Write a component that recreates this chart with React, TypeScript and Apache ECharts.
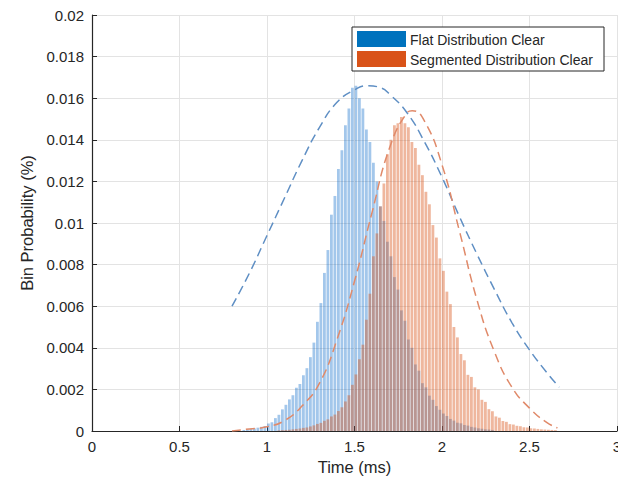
import React, { useEffect, useRef } from "react";
import * as echarts from "echarts";

// ---- Data ----
const BIN_WIDTH = 0.02; // ms
const flatBinStart = 0.86; // left edge of first bin (ms)
const flatProb = [
  0.00005, 0.00007, 0.0001, 0.00012, 0.00016, 0.0002, 0.00024, 0.00036, 0.00042, 0.00062,
  0.00078, 0.00104, 0.00126, 0.00152, 0.00172, 0.00208, 0.00226, 0.00268, 0.00302, 0.00355,
  0.00425, 0.00525, 0.00615, 0.0076, 0.0087, 0.0104, 0.0113, 0.0126, 0.0135, 0.0147,
  0.0155, 0.0165, 0.0166, 0.016, 0.0155, 0.0145, 0.0139, 0.0129, 0.012, 0.0108,
  0.0101, 0.0091, 0.0084, 0.0074, 0.0068, 0.0058, 0.0053, 0.0044, 0.004, 0.0032,
  0.0029, 0.0023, 0.0021, 0.0017, 0.0015, 0.0012, 0.00102, 0.00084, 0.00072, 0.00058,
  0.0005, 0.0004, 0.00037, 0.00029, 0.00026, 0.0002, 0.00017, 0.00013, 0.00011, 0.00008,
  0.00007, 0.00005,
];
const segBinStart = 1.06;
const segProb = [
  0.00003, 0.00004, 0.00005, 0.00006, 0.00008, 0.0001, 0.00012, 0.00015, 0.00017, 0.00022,
  0.00027, 0.00034, 0.00039, 0.00049, 0.00056, 0.0007, 0.00079, 0.00096, 0.00114, 0.00142,
  0.00172, 0.00222, 0.00272, 0.00345, 0.00415, 0.00535, 0.0066, 0.0084, 0.0095, 0.0108,
  0.0119, 0.0133, 0.014, 0.0147, 0.0148, 0.0151, 0.0148, 0.0146, 0.0139, 0.0136,
  0.0128, 0.0123, 0.0115, 0.0109, 0.0099, 0.0093, 0.0083, 0.0077, 0.0067, 0.0061,
  0.005, 0.0045, 0.0037, 0.0034, 0.0027, 0.0026, 0.0021, 0.002, 0.0015, 0.0014,
  0.00105, 0.00095, 0.0007, 0.00064, 0.00048, 0.00044, 0.00033, 0.00031, 0.00025, 0.00023,
  0.00018, 0.00017, 0.00013, 0.00012, 0.0001, 0.00008, 0.00007, 0.00006, 0.00005, 0.00004,
];
const flatFitX = [0.8, 0.9, 1.0, 1.1, 1.2, 1.3, 1.4, 1.5, 1.57, 1.65, 1.7, 1.8, 1.9, 2.0, 2.1, 2.2, 2.3, 2.4, 2.5, 2.6, 2.67];
const flatFitY = [0.006, 0.0076, 0.0094, 0.0112, 0.013, 0.0146, 0.0158, 0.0164, 0.0166, 0.0165, 0.0162, 0.0153, 0.0139, 0.0122, 0.0103, 0.0085, 0.0068, 0.0052, 0.0039, 0.0028, 0.0021];
const segFitX = [0.8, 0.9, 1.0, 1.1, 1.2, 1.3, 1.4, 1.5, 1.6, 1.7, 1.8, 1.83, 1.9, 2.0, 2.1, 2.2, 2.3, 2.4, 2.5, 2.6, 2.66];
const segFitY = [0.0, 0.0001, 0.0002, 0.0005, 0.0012, 0.0023, 0.0044, 0.0072, 0.0105, 0.0136, 0.0153, 0.0154, 0.0149, 0.0128, 0.0096, 0.0063, 0.0038, 0.0021, 0.0011, 0.0004, 0.00015];

const seriesNames = ["Flat Distribution Clear", "Segmented Distribution Clear"];
const FONT = '"Liberation Sans", Arial, Helvetica, sans-serif';
const TEXT = "#262626";

const binData = (start: number, probs: number[]) =>
  probs.map((p, i) => [start + (i + 0.5) * BIN_WIDTH, p]);
const zip = (xs: number[], ys: number[]) => xs.map((x, i) => [x, ys[i]]);

const histRender = (fill: string) => (params: any, api: any) => {
  const x = api.value(0);
  const y = api.value(1);
  const p0 = api.coord([x - BIN_WIDTH / 2, 0]);
  const p1 = api.coord([x + BIN_WIDTH / 2, y]);
  const w = p1[0] - p0[0];
  return {
    type: "rect",
    shape: { x: p0[0], y: p1[1], width: Math.max(w - 0.7, 0.5), height: p0[1] - p1[1] },
    style: { fill },
  };
};

export default function App() {
  const ref = useRef<HTMLDivElement>(null);
  useEffect(() => {
    if (!ref.current) return;
    const chart = echarts.init(ref.current, undefined, { renderer: "svg", width: 618, height: 482 });
    const axisCommon = {
      axisLine: { show: true, lineStyle: { color: TEXT, width: 1.2 } },
      axisTick: { show: true, inside: true, length: 5, lineStyle: { color: TEXT } },
      splitLine: { show: true, lineStyle: { color: "#e3e3e3", width: 1 } },
      nameTextStyle: { fontFamily: FONT, fontSize: 16.5, color: TEXT },
    };
    chart.setOption({
      animation: false,
      backgroundColor: "#ffffff",
      grid: { left: 92, right: 1, top: 15, bottom: 51, containLabel: false, outerBoundsMode: "none" },
      xAxis: {
        type: "value",
        min: 0,
        max: 3,
        interval: 0.5,
        name: "Time (ms)",
        nameLocation: "middle",
        nameGap: 20,
        ...axisCommon,
        axisLabel: {
          fontFamily: FONT,
          fontSize: 15,
          color: TEXT,
          margin: 8,
          formatter: (v: number) => String(+v.toFixed(1)),
        },
      },
      yAxis: {
        type: "value",
        min: 0,
        max: 0.02,
        interval: 0.002,
        name: "Bin Probability (%)",
        nameLocation: "middle",
        nameGap: 55,
        ...axisCommon,
        axisLabel: {
          fontFamily: FONT,
          fontSize: 15,
          color: TEXT,
          margin: 8,
          formatter: (v: number) => String(+v.toFixed(3)),
        },
      },
      series: [
        {
          name: seriesNames[0],
          type: "custom",
          renderItem: histRender("rgba(0,100,200,0.36)"),
          encode: { x: 0, y: 1 },
          data: binData(flatBinStart, flatProb),
          z: 2,
        },
        {
          name: seriesNames[1],
          type: "custom",
          renderItem: histRender("rgba(217,83,25,0.42)"),
          encode: { x: 0, y: 1 },
          data: binData(segBinStart, segProb),
          z: 3,
        },
        {
          name: seriesNames[0] + " fit",
          type: "line",
          data: zip(flatFitX, flatFitY),
          smooth: true,
          showSymbol: false,
          lineStyle: { color: "#5f8fc4", width: 1.5, type: [9, 5] },
          z: 4,
        },
        {
          name: seriesNames[1] + " fit",
          type: "line",
          data: zip(segFitX, segFitY),
          smooth: true,
          showSymbol: false,
          lineStyle: { color: "#e08a6a", width: 1.5, type: [9, 5] },
          z: 4,
        },
      ],
      graphic: [
        { type: "rect", z: 100, shape: { x: 352, y: 27, width: 252, height: 44 }, style: { fill: "#ffffff", stroke: TEXT, lineWidth: 1 } },
        { type: "rect", z: 101, shape: { x: 357, y: 31, width: 49, height: 16 }, style: { fill: "#0072BD" } },
        { type: "rect", z: 101, shape: { x: 357, y: 51, width: 49, height: 16 }, style: { fill: "#D95319" } },
        { type: "text", z: 101, x: 410, y: 39.5, style: { text: seriesNames[0], font: `14px ${FONT}`, fill: TEXT, verticalAlign: "middle" } },
        { type: "text", z: 101, x: 410, y: 59.5, style: { text: seriesNames[1], font: `14px ${FONT}`, fill: TEXT, verticalAlign: "middle" } },
      ],
    });
    return () => chart.dispose();
  }, []);
  return <div ref={ref} style={{ position: "fixed", left: 0, top: 0, width: 618, height: 482, background: "#fff" }} />;
}
